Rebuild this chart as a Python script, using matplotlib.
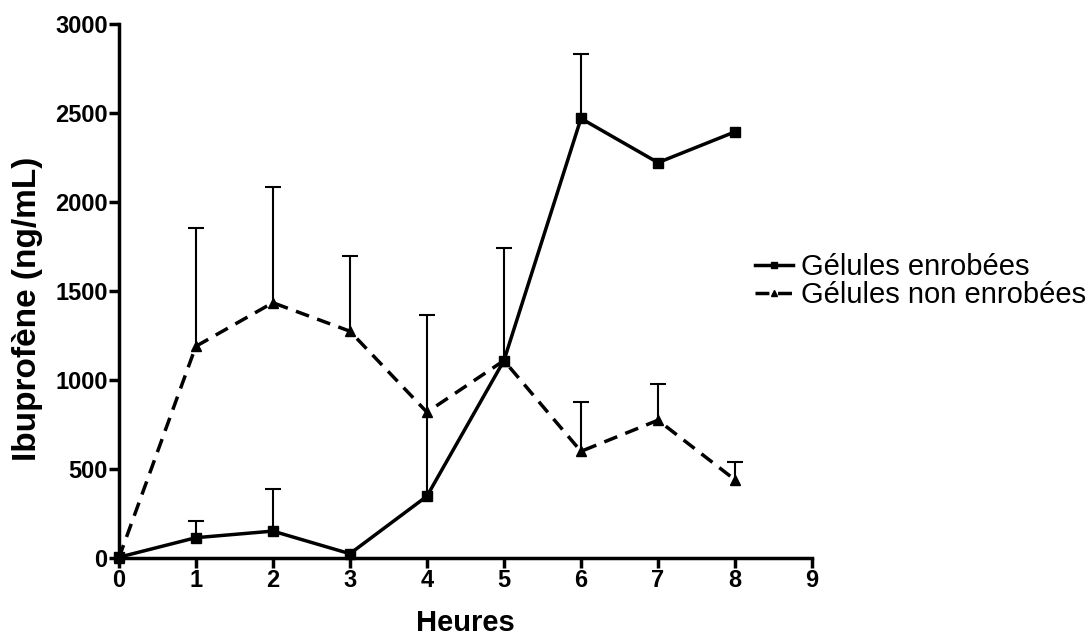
import numpy as np
import matplotlib.pyplot as plt

plt.rcParams['font.family'] = ['Liberation Sans', 'DejaVu Sans']

# Concentrations (ng/mL) over time (h), upper error bar ends
heures = [0, 1, 2, 3, 4, 5, 6, 7, 8]
enrobees = [5, 115, 152, 25, 348, 1110, 2470, 2222, 2395]
enrobees_haut = [5, 208, 390, 25, 1365, 1745, 2835, 2222, 2395]
non_enrobees = [0, 1190, 1435, 1275, 820, 1110, 600, 775, 440]
non_enrobees_haut = [0, 1855, 2085, 1695, 820, 1110, 875, 980, 540]

fig = plt.figure(figsize=(10.9, 6.35), dpi=100)
ax = fig.add_axes([0.109, 0.121, 0.636, 0.841])


def upper_bars(x, mean, top):
    # one-sided (upward) error bars, caps only on top
    x = np.array(x, dtype=float)
    mean = np.array(mean, dtype=float)
    top = np.array(top, dtype=float)
    keep = top > mean
    _, caps, _ = ax.errorbar(x[keep], mean[keep],
                             yerr=[np.zeros(keep.sum()), (top - mean)[keep]],
                             fmt='none', ecolor='black', elinewidth=1.5,
                             capsize=6, capthick=1.5, zorder=2)
    caps[0].set_visible(False)


upper_bars(heures, enrobees, enrobees_haut)
upper_bars(heures, non_enrobees, non_enrobees_haut)

ax.plot(heures, enrobees, color='black', lw=2.5, marker='s', ms=7,
        label='Gélules enrobées', clip_on=False, zorder=3)
ax.plot(heures, non_enrobees, color='black', lw=2.5, ls=(0, (4, 2.5)),
        marker='^', ms=7, label='Gélules non enrobées', clip_on=False, zorder=3)

ax.set_xlim(0, 9)
ax.set_ylim(0, 3000)
ax.set_xticks(range(0, 10))
ax.set_yticks(range(0, 3001, 500))
for side in ('top', 'right'):
    ax.spines[side].set_visible(False)
for side in ('left', 'bottom'):
    ax.spines[side].set_linewidth(2.5)
ax.tick_params(width=2.5, length=7, labelsize=17, pad=1)
for lab in ax.get_xticklabels() + ax.get_yticklabels():
    lab.set_fontweight('bold')

ax.set_xlabel('Heures', fontsize=21, fontweight='bold', labelpad=12)
ax.set_ylabel('Ibuprofène (ng/mL)', fontsize=24, fontweight='bold', labelpad=9)
ax.yaxis.label.set_y(0.466)

leg = ax.legend(loc='center left', bbox_to_anchor=(0.693, 0.557),
                bbox_transform=fig.transFigure, frameon=False,
                fontsize=21, handlelength=1.3, handletextpad=0.25,
                labelspacing=0.0, borderaxespad=0, borderpad=0, markerscale=0.6)

fig.savefig('out.png', dpi=100)
